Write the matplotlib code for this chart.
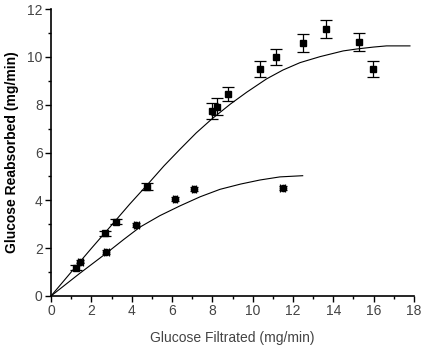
import matplotlib
matplotlib.use("Agg")
import matplotlib.pyplot as plt
from matplotlib.ticker import MultipleLocator

plt.rcParams["font.family"] = ["Liberation Sans", "DejaVu Sans"]

# square series (upper)
sq_x = [1.26, 2.70, 3.24, 4.77, 7.97, 8.21, 8.79, 10.36, 11.16, 12.51, 13.63, 15.29, 15.98]
sq_y = [1.19, 2.62, 3.11, 4.57, 7.74, 7.92, 8.44, 9.50, 9.99, 10.57, 11.16, 10.63, 9.50]
sq_err = [0.10, 0.10, 0.10, 0.15, 0.35, 0.35, 0.30, 0.33, 0.35, 0.37, 0.39, 0.37, 0.33]

# circle series (lower)
ci_x = [1.45, 2.74, 4.23, 6.15, 7.09, 11.49]
ci_y = [1.44, 1.85, 2.97, 4.05, 4.46, 4.50]
ci_yerr = [0.08, 0.08, 0.08, 0.08, 0.08, 0.08]
ci_xerr = [0.12, 0.12, 0.12, 0.12, 0.12, 0.12]

# fitted curves
fit_up_x = [0, 1.0, 2.0, 3.0, 3.9, 4.74, 5.6, 6.40, 7.2, 7.97, 8.9, 9.70, 10.69, 11.5, 12.35, 13.34, 14.49, 15.16, 15.98, 16.64, 17.80]
fit_up_y = [0, 1.00, 1.99, 2.96, 3.84, 4.62, 5.44, 6.14, 6.82, 7.40, 8.03, 8.52, 9.08, 9.45, 9.76, 10.01, 10.25, 10.33, 10.41, 10.46, 10.46]
fit_lo_x = [0, 1.4, 2.76, 3.6, 4.41, 5.4, 6.40, 7.4, 8.38, 9.4, 10.36, 11.35, 12.48]
fit_lo_y = [0, 0.93, 1.80, 2.36, 2.88, 3.36, 3.77, 4.15, 4.46, 4.68, 4.85, 4.98, 5.03]

fig = plt.figure(figsize=(4.29, 3.49), dpi=100)
ax = fig.add_axes([0.119, 0.152, 0.846, 0.822])

ax.plot(fit_up_x, fit_up_y, color="black", lw=0.8)
ax.plot(fit_lo_x, fit_lo_y, color="black", lw=0.8)

ax.errorbar(sq_x, sq_y, yerr=sq_err, fmt="s", color="black", ms=5,
            ecolor="black", elinewidth=0.9, capsize=4, capthick=0.9)
ax.errorbar(ci_x, ci_y, yerr=ci_yerr, xerr=ci_xerr, fmt="o", color="black", ms=4.5,
            ecolor="black", elinewidth=0.9, capsize=3, capthick=0.9)

ax.set_xlim(0, 18)
ax.set_ylim(0, 12)
ax.xaxis.set_major_locator(MultipleLocator(2))
ax.xaxis.set_minor_locator(MultipleLocator(1))
ax.yaxis.set_major_locator(MultipleLocator(2))
ax.yaxis.set_minor_locator(MultipleLocator(1))
ax.tick_params(which="major", direction="out", length=4, width=1, labelsize=10,
               labelcolor="#444444", pad=2)
ax.tick_params(which="minor", direction="out", length=2.5, width=1)

ax.spines["top"].set_visible(False)
ax.spines["right"].set_visible(False)
ax.spines["left"].set_linewidth(1.2)
ax.spines["bottom"].set_linewidth(1.2)

ax.set_xlabel("Glucose Filtrated (mg/min)", fontsize=10, color="#444444", labelpad=9)
ax.set_ylabel("Glucose Reabsorbed (mg/min)", fontsize=10, fontweight="bold", labelpad=6)

fig.savefig("out.png", dpi=100)
